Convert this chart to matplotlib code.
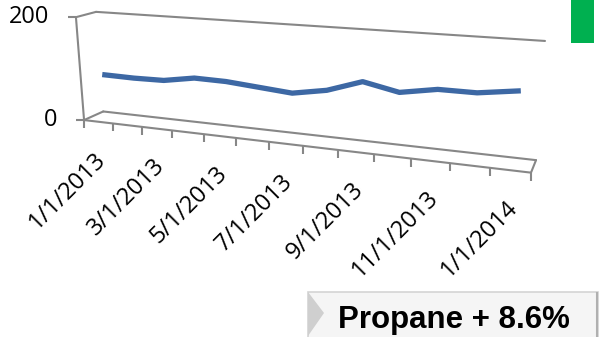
import numpy as np
import matplotlib
matplotlib.use("Agg")
import matplotlib.pyplot as plt
from matplotlib.transforms import Transform, Affine2D, offset_copy
from matplotlib.patches import Rectangle, Polygon

# monthly values, Jan 2013 .. Jan 2014
months = ["1/1/2013", "2/1/2013", "3/1/2013", "4/1/2013", "5/1/2013", "6/1/2013",
          "7/1/2013", "8/1/2013", "9/1/2013", "10/1/2013", "11/1/2013", "12/1/2013",
          "1/1/2014"]
propane = [85, 84, 85, 95, 94, 89, 84, 95, 116, 103, 114, 114, 123]
y_ticks = [0, 200]
badge = "Propane + 8.6%"

W, H = 608, 337
GRAY = "#878787"
BLUE = "#3d68a4"

# where the corners of the 3d box end up in the picture (pixels, y down)
# (x fraction, value fraction, depth 0=front 1=back)
box_world = [(0, 1, 1), (1, 1, 1), (1, 0, 1), (0, 0, 1), (0, 0, 0), (1, 0, 0), (0, 1, 0)]
box_pixels = [(96, 11.7), (545, 41), (536, 160), (103.3, 111.7), (84, 120), (531, 172.7), (76, 17.3)]
# front floor tick marks, used to pin down the perspective along x
tick_px = [112.3, 142.3, 172.7, 204, 236, 268.3, 302.7, 337.7, 374, 411.7, 450, 490]
for k, tx in enumerate(tick_px, start=1):
    box_world.append((k / 13, 0, 0))
    box_pixels.append((tx, 120 + (tx - 84) * 52.7 / 447))


def fit_camera(world, pixels):
    # plain DLT, least squares via svd
    rows = []
    for (u, v, w), (x, y) in zip(world, pixels):
        p = np.array([u, v, w, 1.0])
        x, y = x / 100, y / 100
        rows.append(np.concatenate([p, np.zeros(4), -x * p]))
        rows.append(np.concatenate([np.zeros(4), p, -y * p]))
    return np.linalg.svd(np.array(rows))[2][-1].reshape(3, 4)


CAM = fit_camera(box_world, box_pixels)


class BoxProjection(Transform):
    """2d coords on one plane of the unit box -> display pixels"""
    input_dims = output_dims = 2

    def __init__(self, plane, at):
        super().__init__()
        self.plane, self.at = plane, at

    def transform_non_affine(self, values):
        a, b = np.asarray(values, float).reshape(-1, 2).T
        c = np.full_like(a, self.at)
        if self.plane == "uv":
            u, v, w = a, b, c
        elif self.plane == "uw":
            u, v, w = a, c, b
        else:  # "wv": fixed x
            u, v, w = c, b, a
        h = np.column_stack([u, v, w, np.ones_like(u)]) @ CAM.T
        return np.column_stack([100 * h[:, 0] / h[:, 2], H - 100 * h[:, 1] / h[:, 2]])


fig = plt.figure(figsize=(W / 100, H / 100), dpi=100)
ax = fig.add_axes([0, 0, 1, 1])
ax.set_xlim(0, len(months))
ax.set_ylim(y_ticks[0], y_ticks[-1])
ax.axis("off")

px = Affine2D().scale(1, -1).translate(0, H)  # pixel coords, y down
front = ax.transScale + ax.transLimits + BoxProjection("uv", 0)
middle = ax.transScale + ax.transLimits + BoxProjection("uv", 0.5)

frame = dict(color=GRAY, lw=1.5, solid_capstyle="round")
ax.plot([0, 1], [1, 1], transform=BoxProjection("uv", 1), **frame)   # back wall top
ax.plot([0, 1], [0, 0], transform=BoxProjection("uv", 1), **frame)   # back wall bottom
ax.plot([0, 1], [0, 0], transform=BoxProjection("uv", 0), **frame)   # floor front
ax.plot([0, 0], [0, 1], transform=BoxProjection("uv", 0), **frame)   # value axis
ax.plot([0, 1], [1, 1], transform=BoxProjection("wv", 0), **frame)   # side wall top
ax.plot([0, 1], [0, 0], transform=BoxProjection("wv", 0), **frame)   # floor left
ax.plot([0, 1], [0, 0], transform=BoxProjection("wv", 1), **frame)   # floor right

# tick marks
ax.plot(np.arange(len(months) + 1), np.zeros(len(months) + 1), transform=front,
        ls="none", marker=3, ms=5.8, mew=1.5, color=GRAY)
ax.plot([0, 0], y_ticks, transform=front, ls="none", marker=0, ms=5.8, mew=1.5, color=GRAY)

x = np.arange(len(months)) + 0.5
ax.plot(x, propane, transform=middle, color=BLUE, lw=3.8, solid_joinstyle="round")

tick_font = dict(family=["Open Sans", "DejaVu Sans"], fontsize=17, color="black")
for val in y_ticks:
    ax.text(0, val, str(val), transform=offset_copy(front, fig=fig, x=-27, y=0, units="dots"),
            ha="right", va="center", **tick_font)
for xi, lab in zip(x[::2], months[::2]):
    ax.text(xi, 0, lab, transform=offset_copy(front, fig=fig, x=4, y=-34, units="dots"),
            ha="right", va="center", rotation=45, rotation_mode="anchor", **tick_font)

# green marker top right
fig.add_artist(Rectangle((571, 0), 23, 43, transform=px, facecolor="#00b050", edgecolor="none"))

# label box bottom right
fig.add_artist(Rectangle((308, 292), 290, 50, transform=px, facecolor="#f5f5f5",
                         edgecolor="#d4d4d4", lw=1.2))
fig.add_artist(Polygon([(308, 292), (324, 313), (308, 336)], transform=px,
                       facecolor="#cfcfcf", edgecolor="none"))
fig.add_artist(plt.Line2D([597, 597], [293, 337], transform=px, color="#b0b0b0", lw=1.5))
fig.text(454, 320, badge, transform=px, ha="center", va="center",
         family="Liberation Sans", fontweight="bold", fontsize=22.5, color="black")

fig.savefig("out.png", dpi=100)
